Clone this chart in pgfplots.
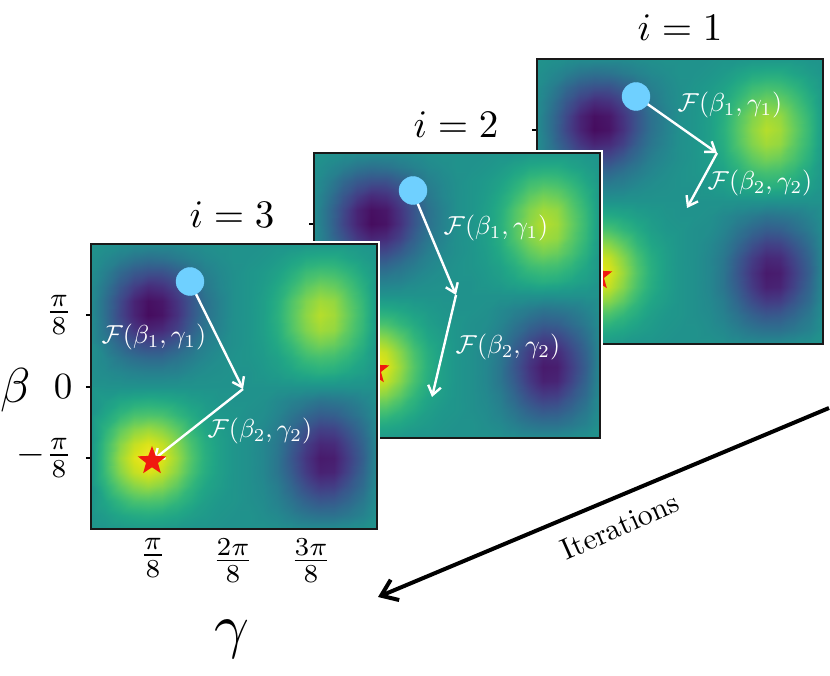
\documentclass[border=0pt]{standalone}
\usepackage{graphicx}
\usepackage{pgfplots}
\usepackage{pgfplotstable}
\pgfplotsset{compat=1.18}
\usetikzlibrary{arrows.meta}
\pgfdeclareplotmark{fstar}{%
  \pgfpathmoveto{\pgfpointpolar{90}{\pgfplotmarksize}}%
  \pgfpathlineto{\pgfpointpolar{126}{0.42\pgfplotmarksize}}%
  \pgfpathlineto{\pgfpointpolar{162}{\pgfplotmarksize}}%
  \pgfpathlineto{\pgfpointpolar{198}{0.42\pgfplotmarksize}}%
  \pgfpathlineto{\pgfpointpolar{234}{\pgfplotmarksize}}%
  \pgfpathlineto{\pgfpointpolar{270}{0.42\pgfplotmarksize}}%
  \pgfpathlineto{\pgfpointpolar{306}{\pgfplotmarksize}}%
  \pgfpathlineto{\pgfpointpolar{342}{0.42\pgfplotmarksize}}%
  \pgfpathlineto{\pgfpointpolar{18}{\pgfplotmarksize}}%
  \pgfpathlineto{\pgfpointpolar{54}{0.42\pgfplotmarksize}}%
  \pgfpathclose\pgfusepathqfill}
\pgfplotstableread[row sep=\\]{
z\\
.51\\.50\\.49\\.48\\.48\\.48\\.48\\.49\\.50\\.51\\.51\\.51\\.51\\.52\\.52\\.53\\.53\\.53\\.53\\.52\\.51\\
.50\\.47\\.43\\.39\\.37\\.38\\.41\\.44\\.47\\.49\\.51\\.51\\.52\\.54\\.57\\.60\\.61\\.61\\.58\\.55\\.52\\
.49\\.43\\.34\\.28\\.25\\.25\\.30\\.37\\.43\\.47\\.50\\.52\\.54\\.57\\.62\\.68\\.70\\.69\\.65\\.59\\.53\\
.48\\.39\\.27\\.18\\.12\\.14\\.21\\.31\\.40\\.46\\.50\\.52\\.55\\.60\\.67\\.75\\.79\\.77\\.71\\.63\\.53\\
.48\\.36\\.22\\.10\\.04\\.06\\.15\\.26\\.37\\.44\\.50\\.52\\.56\\.62\\.72\\.81\\.86\\.84\\.75\\.66\\.54\\
.48\\.36\\.21\\.10\\.03\\.05\\.14\\.26\\.37\\.44\\.50\\.52\\.56\\.63\\.73\\.83\\.89\\.86\\.77\\.67\\.54\\
.48\\.38\\.26\\.16\\.10\\.12\\.19\\.30\\.39\\.45\\.50\\.52\\.56\\.62\\.72\\.81\\.86\\.84\\.75\\.66\\.54\\
.49\\.42\\.33\\.26\\.22\\.23\\.29\\.36\\.43\\.47\\.50\\.52\\.55\\.60\\.67\\.75\\.79\\.77\\.71\\.63\\.53\\
.50\\.46\\.40\\.36\\.34\\.34\\.38\\.42\\.46\\.49\\.51\\.52\\.54\\.57\\.62\\.68\\.70\\.69\\.65\\.59\\.53\\
.50\\.48\\.46\\.44\\.43\\.43\\.44\\.47\\.49\\.50\\.51\\.51\\.53\\.55\\.58\\.61\\.63\\.62\\.59\\.56\\.52\\
.51\\.51\\.51\\.51\\.51\\.51\\.51\\.51\\.51\\.51\\.51\\.51\\.51\\.51\\.51\\.51\\.51\\.51\\.51\\.51\\.51\\
.52\\.55\\.59\\.61\\.62\\.61\\.59\\.56\\.54\\.52\\.51\\.51\\.50\\.47\\.44\\.41\\.38\\.39\\.41\\.45\\.50\\
.52\\.59\\.66\\.71\\.72\\.71\\.66\\.61\\.56\\.53\\.52\\.50\\.49\\.45\\.39\\.33\\.29\\.30\\.35\\.41\\.49\\
.53\\.64\\.75\\.82\\.85\\.82\\.75\\.66\\.59\\.55\\.52\\.50\\.47\\.42\\.34\\.25\\.19\\.20\\.27\\.36\\.48\\
.53\\.68\\.82\\.91\\.95\\.91\\.82\\.71\\.62\\.56\\.52\\.50\\.46\\.40\\.29\\.18\\.11\\.12\\.21\\.32\\.47\\
.53\\.69\\.85\\.95\\.99\\.95\\.85\\.73\\.63\\.56\\.52\\.50\\.46\\.39\\.27\\.15\\.07\\.08\\.18\\.30\\.47\\
.53\\.68\\.82\\.91\\.95\\.91\\.82\\.71\\.62\\.56\\.52\\.50\\.46\\.39\\.29\\.17\\.09\\.10\\.20\\.32\\.47\\
.53\\.64\\.75\\.82\\.85\\.82\\.75\\.66\\.59\\.55\\.52\\.50\\.47\\.42\\.33\\.23\\.17\\.18\\.26\\.35\\.48\\
.52\\.59\\.66\\.71\\.72\\.71\\.66\\.61\\.56\\.53\\.52\\.50\\.48\\.44\\.38\\.31\\.27\\.28\\.33\\.40\\.49\\
.52\\.55\\.59\\.61\\.62\\.61\\.59\\.56\\.54\\.52\\.51\\.51\\.49\\.47\\.43\\.39\\.37\\.37\\.40\\.44\\.50\\
.51\\.52\\.53\\.54\\.54\\.54\\.53\\.52\\.52\\.51\\.51\\.51\\.51\\.50\\.49\\.48\\.48\\.48\\.49\\.50\\.51\\
}\heat
\definecolor{dot}{HTML}{6FD0FF}
\definecolor{starred}{HTML}{F0190F}
\newcommand{\sz}[2]{\scalebox{#1}{#2}}
\newcommand{\Fa}{\sz{2.6}{$\mathcal{F}(\beta_1,\gamma_1)$}}
\newcommand{\Fb}{\sz{2.6}{$\mathcal{F}(\beta_2,\gamma_2)$}}
\pgfplotsset{panel/.style={
  scale only axis, width=286pt, height=285pt,
  xmin=0, xmax=286, ymin=0, ymax=285,
  anchor=south west, clip=false, axis on top,
  colormap/viridis, point meta min=0, point meta max=1,
  axis line style={line width=1.5pt, color=black!90},
  ytick={71,142,214}, yticklabels={},
  xtick=\empty,
  tick style={line width=1.5pt, color=black},
  tick pos=left, tick align=outside,
  major tick length=5pt,
}}
\newcommand{\heatplot}{%
  \fill[white] ([shift={(-2.5pt,-2.5pt)}]rel axis cs:0,0) rectangle ([shift={(2.5pt,2.5pt)}]rel axis cs:1,1);
  \addplot[surf, shader=interp, mesh/cols=21, point meta=\thisrow{z}]
    table[x index=0, y index=0, x expr={14.3*mod(\coordindex,21)}, y expr={285-14.25*floor(\coordindex/21)}] {\heat};
  \addplot[only marks, mark=fstar, mark size=15pt, starred] coordinates {(61,68)};
}
\tikzset{arr/.style={white, line width=2.4pt, -{Straight Barb[length=9pt,width=13pt,line width=2.4pt]}},
  lab/.style={white}}
\newcommand{\dotplot}{\addplot[only marks, mark=*, mark size=14pt, dot, mark options={draw=dot,fill=dot}] coordinates {(99,247.5)};}
\begin{document}
\begin{tikzpicture}[x=1pt,y=1pt]
\useasboundingbox (0,0) rectangle (830,675);
% panel i=1
\begin{axis}[panel, at={(537pt,331pt)}]
\heatplot
\addplot[arr] coordinates {(99,248) (180,191)};
\addplot[arr] coordinates {(180,191) (150,136)};
\dotplot
\node[lab] at (axis cs:193,239) {\Fa};
\node[lab] at (axis cs:223,161) {\Fb};
\end{axis}
% panel i=2
\begin{axis}[panel, at={(314pt,237pt)}]
\heatplot
\addplot[arr] coordinates {(98,248) (142,143)};
\addplot[arr] coordinates {(142,143) (118,41)};
\dotplot
\node[lab] at (axis cs:182,210) {\Fa};
\node[lab] at (axis cs:194,91) {\Fb};
\end{axis}
% panel i=3
\begin{axis}[panel, at={(91pt,146pt)},
  yticklabels={\sz{3.7}{$-\frac{\pi}{8}$},\sz{3.7}{$0$},\sz{3.7}{$\frac{\pi}{8}$}},
  xtick={62,142,220},
  xticklabels={\sz{3.7}{$\frac{\pi}{8}$},\sz{3.7}{$\frac{2\pi}{8}$},\sz{3.7}{$\frac{3\pi}{8}$}},
  x tick style={draw=none},
  y tick label style={xshift=-10pt},
  x tick label style={yshift=-1pt},
]
\heatplot
\addplot[arr] coordinates {(99,247) (152,140)};
\addplot[arr] coordinates {(152,140) (62,69)};
\dotplot
\node[lab] at (axis cs:63,192) {\Fa};
\node[lab] at (axis cs:169,98) {\Fb};
\end{axis}
% titles and outer labels
\node at (680,647) {\sz{3.9}{$i=1$}};
\node at (456,550) {\sz{3.9}{$i=2$}};
\node at (232,460) {\sz{3.9}{$i=3$}};
\node at (232,36) {\sz{6.1}{$\gamma$}};
\node at (16,285) {\sz{4.9}{$\beta$}};
\draw[black, line width=4pt, -{Straight Barb[length=15pt,width=22pt,line width=4pt]}] (829,267) -- (378,78);
\node[rotate=24] at (620,149) {\sz{3}{Iterations}};
\end{tikzpicture}
\end{document}
